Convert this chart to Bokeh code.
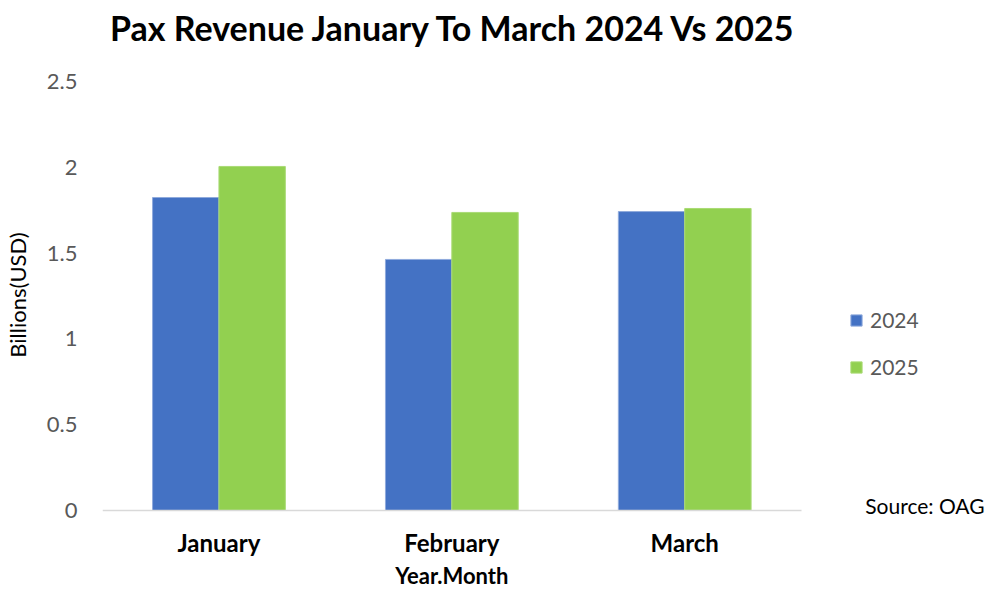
from bokeh.plotting import figure
from bokeh.models import ColumnDataSource, Range1d, Label, Legend, LegendItem, FixedTicker
from bokeh.transform import dodge
from bokeh.embed import file_html
from bokeh.resources import INLINE

months = ["January", "February", "March"]
rev_2024 = [1.824, 1.463, 1.742]
rev_2025 = [2.005, 1.737, 1.760]
y_ticks = [0, 0.5, 1, 1.5, 2, 2.5]
y_tick_labels = ["0", "0.5", "1", "1.5", "2", "2.5"]

FONT = "Lato"
BLUE = "#4472C4"
GREEN = "#92D050"

PX_X = 235.0    # pixels per category
PX_Y = 171.6    # pixels per billion

xpos = [i + 0.5 for i in range(len(months))]
src = ColumnDataSource(dict(x=xpos, month=months, y2024=rev_2024, y2025=rev_2025))

# frame covers title / legend / x-label area so annotations are not clipped
p = figure(width=985, height=589,
           x_range=Range1d(0, 891 / PX_X), y_range=Range1d(-79 / PX_Y, 510 / PX_Y),
           output_backend="svg", toolbar_location=None,
           min_border_left=94, min_border_right=0, min_border_top=0, min_border_bottom=0)
p.outline_line_color = None
p.grid.visible = False

r1 = p.vbar(x=dodge("x", -0.1425), top="y2024", width=0.285,
            source=src, fill_color=BLUE, line_color="#8FAADC", line_width=1)
r2 = p.vbar(x=dodge("x", 0.1425), top="y2025", width=0.285,
            source=src, fill_color=GREEN, line_color="#A9DA74", line_width=1)

# y axis
ya = p.yaxis[0]
ya.ticker = FixedTicker(ticks=y_ticks)
ya.major_label_overrides = {t: l for t, l in zip(y_ticks, y_tick_labels)}
ya.axis_line_color = None
ya.major_tick_line_color = None
ya.major_tick_out = 0
ya.major_tick_in = 0
ya.minor_tick_line_color = None
ya.major_label_text_font = FONT
ya.major_label_text_font_size = "22px"
ya.major_label_text_color = "#595959"
ya.major_label_standoff = 25
ya.axis_label = "Billions(USD)"
ya.axis_label_text_font = FONT
ya.axis_label_text_font_size = "22px"
ya.axis_label_text_font_style = "normal"
ya.axis_label_text_color = "black"
ya.axis_label_standoff = 13

# x axis, pinned at y = 0
xa = p.xaxis[0]
xa.fixed_location = 0
xa.ticker = FixedTicker(ticks=xpos)
xa.major_label_overrides = {x: m for x, m in zip(xpos, months)}
xa.bounds = (0, len(months))
xa.axis_line_color = "#D9D9D9"
xa.axis_line_width = 1.5
xa.major_tick_line_color = None
xa.major_tick_out = 0
xa.major_tick_in = 0
xa.minor_tick_line_color = None
xa.major_label_text_font = FONT
xa.major_label_text_font_size = "24px"
xa.major_label_text_font_style = "bold"
xa.major_label_text_color = "black"
xa.major_label_standoff = 17

# x axis title
p.add_layout(Label(x=len(months) / 2, y=-65 / PX_Y, text="Year.Month",
                   text_font=FONT, text_font_size="22px", text_font_style="bold",
                   text_color="black", text_align="center", text_baseline="middle"))
# chart title
p.add_layout(Label(x=354.5 / PX_X, y=483 / PX_Y, text="Pax Revenue January To March 2024 Vs 2025",
                   text_font=FONT, text_font_size="34px", text_font_style="bold",
                   text_color="black", text_align="center", text_baseline="middle"))
# source
p.add_layout(Label(x=890 / PX_X, y=5 / PX_Y, text="Source: OAG", text_font=FONT,
                   text_font_size="21px", text_color="black", text_align="right",
                   text_baseline="middle"))

legend = Legend(items=[LegendItem(label="2024", renderers=[r1]),
                       LegendItem(label="2025", renderers=[r2])],
                location=(747, 210), orientation="vertical",
                glyph_width=14, glyph_height=14, label_height=20,
                spacing=22, padding=0, margin=0,
                label_text_font=FONT, label_text_font_size="21px",
                label_text_color="#595959", label_standoff=7,
                border_line_color=None, background_fill_alpha=0)
p.add_layout(legend)

open("out.html", "w").write(file_html(p, INLINE))
